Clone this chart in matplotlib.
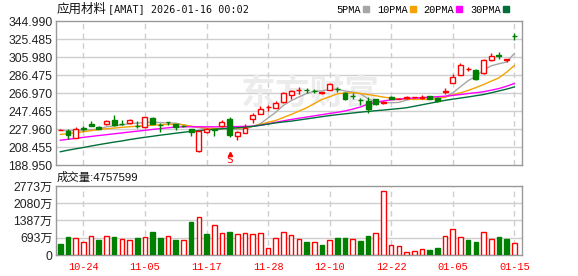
import matplotlib
matplotlib.use('Agg')
import matplotlib.pyplot as plt
from matplotlib.patches import Rectangle
from matplotlib.lines import Line2D
import numpy as np

dates = ['10-21', '10-22', '10-23', '10-24', '10-27', '10-28', '10-29', '10-30', '10-31',
         '11-03', '11-04', '11-05', '11-06', '11-07', '11-10', '11-11', '11-12', '11-13', '11-14',
         '11-17', '11-18', '11-19', '11-20', '11-21', '11-24', '11-25', '11-26', '11-28',
         '12-01', '12-02', '12-03', '12-04', '12-05', '12-08', '12-09', '12-10', '12-11', '12-12',
         '12-15', '12-16', '12-17', '12-18', '12-19', '12-22', '12-23', '12-24', '12-26',
         '12-29', '12-30', '12-31', '01-02', '01-05', '01-06', '01-07', '01-08', '01-09',
         '01-12', '01-13', '01-14', '01-15']
tick_dates = ['10-24', '11-05', '11-17', '11-28', '12-10', '12-22', '01-05', '01-15']

opens = [226.8, 226.0, 218.4, 228.6, 233.9, 230.3, 233.2, 237.2, 233.8, 235.0,
         231.5, 230.3, 240.1, 232.4, 235.7, 233.2, 231.7, 227.9, 204.0, 224.5,
         227.6, 231.0, 239.3, 220.2, 223.8, 239.2, 244.7, 251.3, 250.9, 256.9,
         265.1, 269.8, 270.5, 269.5, 267.5, 270.5, 271.5, 266.8, 264.0, 259.5,
         258.8, 260.0, 256.5, 262.9, 260.4, 261.5, 262.2, 261.5, 263.5, 261.8,
         268.5, 278.0, 286.7, 292.7, 291.4, 288.9, 302.5, 307.8, 302.5, 328.8]
highs = [228.5, 228.2, 230.3, 231.0, 236.1, 231.5, 237.5, 242.6, 238.2, 239.0,
         236.4, 241.2, 240.5, 234.6, 235.9, 233.5, 232.5, 228.5, 226.5, 229.0,
         228.0, 237.5, 241.2, 226.3, 233.9, 245.4, 252.4, 253.5, 258.5, 268.0,
         270.0, 273.0, 272.5, 271.0, 268.5, 278.0, 273.5, 268.0, 267.5, 262.0,
         262.5, 261.0, 258.0, 263.7, 261.5, 263.5, 263.0, 264.3, 264.0, 262.5,
         272.0, 287.7, 299.0, 295.5, 292.5, 303.3, 310.5, 311.5, 303.5, 332.5]
lows = [226.5, 216.6, 218.0, 226.0, 231.0, 227.5, 232.8, 231.7, 232.2, 233.5,
        229.2, 229.5, 233.0, 224.5, 232.0, 227.4, 230.5, 220.5, 203.5, 224.0,
        220.0, 230.5, 219.0, 216.0, 223.5, 234.6, 244.0, 248.0, 250.5, 256.5,
        261.0, 266.0, 267.0, 266.5, 266.0, 270.0, 268.0, 259.5, 261.0, 254.5,
        245.8, 253.5, 254.8, 260.0, 260.0, 260.7, 261.5, 261.0, 260.0, 257.5,
        265.5, 277.5, 286.0, 291.0, 281.0, 287.8, 302.0, 304.3, 301.0, 324.5]
closes = [227.3, 221.7, 228.2, 228.2, 231.0, 228.2, 236.4, 232.8, 233.6, 237.5,
          231.0, 240.6, 233.6, 232.0, 235.3, 229.9, 231.2, 224.4, 226.3, 228.2,
          227.4, 235.3, 221.2, 224.9, 229.2, 243.6, 249.8, 251.8, 256.0, 266.7,
          268.9, 270.3, 270.0, 269.0, 268.0, 277.0, 271.0, 260.4, 263.5, 259.0,
          249.6, 255.3, 257.5, 260.7, 260.9, 262.2, 262.6, 263.0, 260.7, 258.1,
          269.0, 284.5, 296.8, 293.3, 282.4, 302.2, 307.6, 307.4, 303.4, 328.5]

ma5 = [226.5, 226.0, 226.5, 226.8, 227.3, 227.5, 230.4, 231.3, 232.4, 233.7,
       234.3, 235.1, 235.3, 234.9, 234.5, 234.3, 232.4, 230.6, 229.4, 228.0,
       227.5, 228.3, 227.7, 227.4, 227.6, 230.8, 233.7, 239.9, 246.1, 253.6,
       258.6, 262.7, 266.4, 269.0, 269.2, 270.9, 271.0, 269.1, 268.0, 266.2,
       260.7, 257.6, 257.0, 256.4, 256.8, 259.3, 260.8, 261.9, 261.9, 261.3,
       262.7, 267.1, 273.8, 280.3, 285.2, 291.8, 296.5, 298.6, 300.6, 309.8]
ma10 = [222.0, 223.0, 224.0, 225.0, 226.2, 227.4, 228.2, 229.0, 229.8, 230.4,
        231.0, 231.6, 232.1, 232.6, 232.9, 233.2, 232.5, 231.0, 230.0, 229.0,
        228.5, 228.5, 228.6, 228.8, 229.3, 231.0, 232.8, 235.3, 237.2, 240.5,
        243.7, 247.3, 250.9, 255.5, 260.0, 262.9, 266.1, 267.0, 267.2, 266.5,
        265.3, 264.0, 262.5, 261.5, 260.7, 260.3, 260.0, 260.0, 260.0, 260.8,
        262.4, 265.0, 267.2, 269.7, 272.8, 276.2, 279.8, 283.4, 289.5, 296.8]
ma20 = [215.8, 216.8, 217.8, 218.9, 219.9, 220.9, 221.8, 222.8, 223.7, 224.7,
        225.6, 226.5, 227.5, 228.4, 229.3, 230.0, 230.3, 230.4, 230.4, 230.3,
        230.3, 230.4, 230.5, 230.6, 230.8, 231.0, 232.0, 233.5, 235.2, 236.8,
        238.3, 239.6, 240.9, 242.2, 243.5, 244.8, 246.0, 247.5, 249.5, 251.8,
        255.0, 257.0, 258.4, 259.5, 260.3, 261.0, 261.5, 262.0, 262.5, 263.0,
        263.5, 264.4, 265.3, 266.4, 267.3, 268.3, 270.0, 271.8, 274.3, 277.3]
ma30 = [203.3, 205.0, 206.5, 207.9, 209.5, 211.0, 212.4, 213.8, 215.0, 216.5,
        217.8, 219.0, 220.1, 221.3, 222.3, 223.4, 224.4, 225.4, 226.2, 227.0,
        227.6, 228.2, 228.8, 229.3, 229.9, 230.8, 232.0, 233.3, 234.6, 235.6,
        236.5, 237.7, 238.9, 240.1, 241.3, 242.5, 243.5, 244.4, 245.3, 246.2,
        247.0, 247.8, 248.5, 249.3, 250.1, 251.0, 252.6, 254.2, 255.8, 257.4,
        259.0, 260.3, 261.5, 262.7, 264.0, 265.3, 267.2, 269.2, 271.2, 273.5]

# volume in 万
volumes = [456, 724, 670, 523, 750, 616, 750, 724, 630, 603,
           683, 710, 925, 683, 750, 603, 603, 1327, 1514, 844,
           1206, 884, 925, 844, 871, 844, 871, 281, 670, 911,
           804, 630, 523, 523, 402, 590, 683, 683, 630, 563,
           764, 884, 2559, 389, 348, 107, 147, 228, 201, 281,
           764, 1032, 710, 603, 523, 925, 630, 724, 643, 482]
vol_up = [0, 0, 1, 1, 1, 0, 1, 0, 1, 1,
          0, 1, 0, 0, 1, 0, 1, 0, 1, 0,
          1, 1, 0, 1, 1, 1, 1, 1, 1, 1,
          1, 1, 0, 1, 0, 1, 0, 0, 1, 0,
          0, 1, 1, 1, 1, 1, 1, 1, 0, 0,
          1, 1, 1, 0, 0, 1, 1, 0, 0, 1]
last_volume = 4757599

price_ticks = [188.950, 208.455, 227.960, 247.465, 266.970, 286.475, 305.980, 325.485, 344.990]
vol_ticks = [0, 693, 1387, 2080, 2773]
vol_tick_labels = ['0', '693万', '1387万', '2080万', '2773万']

signal_date = '11-20'
signal_price = 194.5

RED = '#ff0000'
GREEN = '#008000'
ma_colors = ['#a6a6a6', '#f4a300', '#ff00ff', '#006f3a']
ma_names = ['5PMA', '10PMA', '20PMA', '30PMA']
grid_c = '#cfcfcf'
spine_c = '#999999'

W, H = 578, 276
fig = plt.figure(figsize=(W / 100, H / 100), dpi=100)
ax = fig.add_axes([56 / W, 1 - 165 / H, 466 / W, 144 / H])
ax2 = fig.add_axes([56 / W, 1 - 255 / H, 466 / W, 69 / H])

x = np.arange(len(dates))
tick_pos = [dates.index(d) for d in tick_dates]

for a in (ax, ax2):
    a.set_xlim(-0.56, len(dates))
    for s in a.spines.values():
        s.set_color(spine_c)
        s.set_linewidth(1)
    a.set_xticks(tick_pos)
    a.tick_params(length=0)
    for p in tick_pos:
        a.axvline(p, color=grid_c, lw=1, ls=(0, (4, 3)), zorder=0)
    a.set_facecolor('white')

# price panel
ax.set_ylim(price_ticks[0], price_ticks[-1])
ax.set_yticks(price_ticks)
ax.set_yticklabels(['%.3f' % v for v in price_ticks], fontsize=8.7,
                   family='Liberation Sans', color='#222222')
ax.tick_params(axis='y', pad=2.5)
ax.set_xticklabels([])
for v in price_ticks[1:-1]:
    ax.axhline(v, color=grid_c, lw=1, zorder=0)

ax.text(0.545, 0.5, '东方财富', transform=ax.transAxes, fontsize=25,
        family='Noto Sans CJK SC', fontweight='bold', color='#ececec',
        ha='center', va='center', zorder=0)

bw = 0.64
for i in x:
    o, h, l, c = opens[i], highs[i], lows[i], closes[i]
    col = RED if c >= o else GREEN
    ax.vlines(i, l, h, color=col, lw=1, zorder=3)
    face = 'white' if c >= o else GREEN
    ax.add_patch(Rectangle((i - bw / 2, min(o, c)), bw, abs(c - o),
                           facecolor=face, edgecolor=col, lw=1, zorder=4))

for vals, col in zip([ma5, ma10, ma20, ma30], ma_colors):
    ax.plot(x, vals, color=col, lw=1, zorder=2)

si = dates.index(signal_date)
ax.text(si, signal_price, 'S', color=RED, fontsize=8, family='DejaVu Sans Mono',
        ha='center', va='center', zorder=5)
ax.plot(si, signal_price + 6, marker='^', color=RED, ms=3, zorder=5)

handles = [Line2D([], [], ls='none', marker='s', ms=4.5, color=c) for c in ma_colors]
leg = ax.legend(handles, ma_names, ncol=4, markerfirst=False, frameon=False,
                loc='lower right', bbox_to_anchor=(0.985, 1.0), borderpad=0.1,
                handlelength=0.6, handletextpad=0.2, columnspacing=0.75,
                prop={'family': 'Liberation Mono', 'size': 7.4})

# volume panel
ax2.set_ylim(0, vol_ticks[-1])
ax2.set_yticks(vol_ticks)
ax2.set_yticklabels(vol_tick_labels, fontsize=8.7,
                    family=['Liberation Sans', 'Noto Sans CJK SC'], color='#222222')
ax2.tick_params(axis='y', pad=2.5)
for v in vol_ticks[1:-1]:
    ax2.axhline(v, color=grid_c, lw=1, zorder=0)
for i in x:
    if vol_up[i]:
        ax2.bar(i, volumes[i], width=0.6, facecolor='white', edgecolor=RED, lw=1, zorder=3)
    else:
        ax2.bar(i, volumes[i], width=0.6, facecolor=GREEN, edgecolor=GREEN, lw=1, zorder=3)
ax2.set_xticklabels(tick_dates, color=RED, fontsize=7.4, family='Liberation Mono')
ax2.tick_params(axis='x', pad=5)

fig.text(57 / W, 1 - 9 / H, '应用材料', fontsize=9, family='Noto Sans CJK SC',
         color='#111111', va='center')
fig.text(108 / W, 1 - 9.5 / H, '[AMAT] 2026-01-16 00:02', fontsize=7.3,
         family='DejaVu Sans Mono', color='#111111', va='center')
fig.text(57 / W, 1 - 177 / H, '成交量:%d' % last_volume, fontsize=8.2,
         family=['Liberation Sans', 'Noto Sans CJK SC'], color='#111111', va='center')

fig.savefig('out.png', dpi=100)
